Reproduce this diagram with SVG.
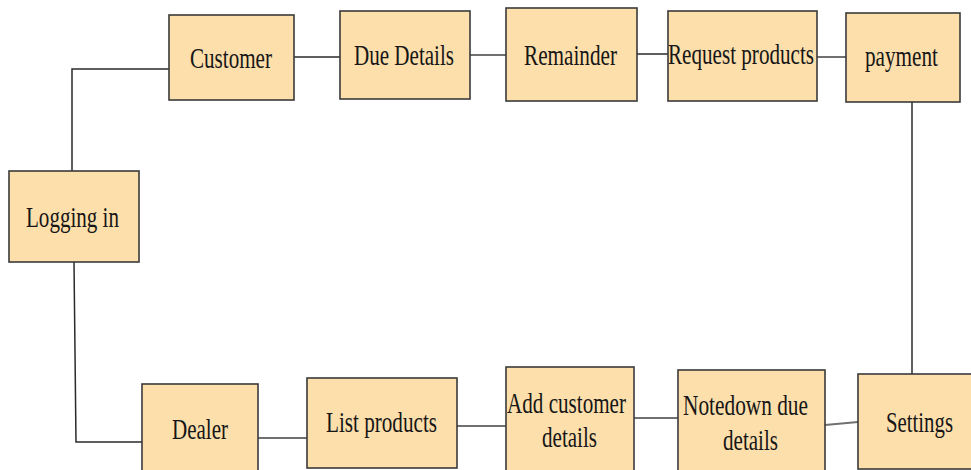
<svg xmlns="http://www.w3.org/2000/svg" width="971" height="470" viewBox="0 0 971 470">
<style>
.box{fill:#FDDFAC;stroke:#3a3a3a;stroke-width:1.6}
.t{font-family:"Liberation Serif","Times New Roman",serif;font-size:30px;fill:#161616;text-anchor:middle}
.c{fill:none;stroke:#2a2a2a;stroke-width:1.5}
.g{fill:none;stroke:#707070;stroke-width:2}
</style>
<rect width="971" height="470" fill="#ffffff"/>
<g id="connectors">
<polyline class="c" points="72,171 72,69 169,69"/>
<line class="c" x1="294" y1="57" x2="340" y2="57"/>
<line class="g" x1="470" y1="55" x2="506" y2="55"/>
<line class="c" x1="637" y1="54" x2="668" y2="54"/>
<line class="g" x1="817" y1="57" x2="846" y2="57"/>
<line class="c" x1="912" y1="102" x2="912" y2="374"/>
<polyline class="c" points="74,262 76,442 142,442"/>
<line class="g" x1="258" y1="438" x2="307" y2="438"/>
<line class="g" x1="457" y1="426" x2="506" y2="426"/>
<line class="g" x1="634" y1="418" x2="678" y2="418"/>
<line class="g" x1="825" y1="425" x2="858" y2="422"/>
</g>
<g id="customer"><rect class="box" x="169" y="15" width="125" height="85"/><text class="t" x="231" y="68" textLength="82" lengthAdjust="spacingAndGlyphs">Customer</text></g>
<g id="due-details"><rect class="box" x="340" y="11" width="130" height="88"/><text class="t" x="404" y="65" textLength="100" lengthAdjust="spacingAndGlyphs">Due Details</text></g>
<g id="remainder"><rect class="box" x="506" y="8" width="131" height="93"/><text class="t" x="570.5" y="65" textLength="93" lengthAdjust="spacingAndGlyphs">Remainder</text></g>
<g id="request-products"><rect class="box" x="668" y="11" width="149" height="90"/><text class="t" x="741" y="64" textLength="146" lengthAdjust="spacingAndGlyphs">Request products</text></g>
<g id="payment"><rect class="box" x="846" y="13" width="114" height="89"/><text class="t" x="901.5" y="66" textLength="73" lengthAdjust="spacingAndGlyphs">payment</text></g>
<g id="logging-in"><rect class="box" x="9" y="171" width="130" height="91"/><text class="t" x="72.5" y="227" textLength="93" lengthAdjust="spacingAndGlyphs">Logging in</text></g>
<g id="dealer"><rect class="box" x="142" y="384" width="116" height="92"/><text class="t" x="200" y="439" textLength="56" lengthAdjust="spacingAndGlyphs">Dealer</text></g>
<g id="list-products"><rect class="box" x="307" y="378" width="150" height="90"/><text class="t" x="381.5" y="432" textLength="111" lengthAdjust="spacingAndGlyphs">List products</text></g>
<g id="add-customer-details"><rect class="box" x="506" y="367" width="128" height="110"/><text class="t" x="566.5" y="413" textLength="119" lengthAdjust="spacingAndGlyphs">Add customer</text><text class="t" x="569.5" y="447" textLength="55" lengthAdjust="spacingAndGlyphs">details</text></g>
<g id="notedown-due-details"><rect class="box" x="678" y="370" width="147" height="107"/><text class="t" x="745.5" y="415" textLength="125" lengthAdjust="spacingAndGlyphs">Notedown due</text><text class="t" x="750.5" y="450" textLength="55" lengthAdjust="spacingAndGlyphs">details</text></g>
<g id="settings"><rect class="box" x="858" y="374" width="114" height="95"/><text class="t" x="919.5" y="432" textLength="67" lengthAdjust="spacingAndGlyphs">Settings</text></g>
</svg>
